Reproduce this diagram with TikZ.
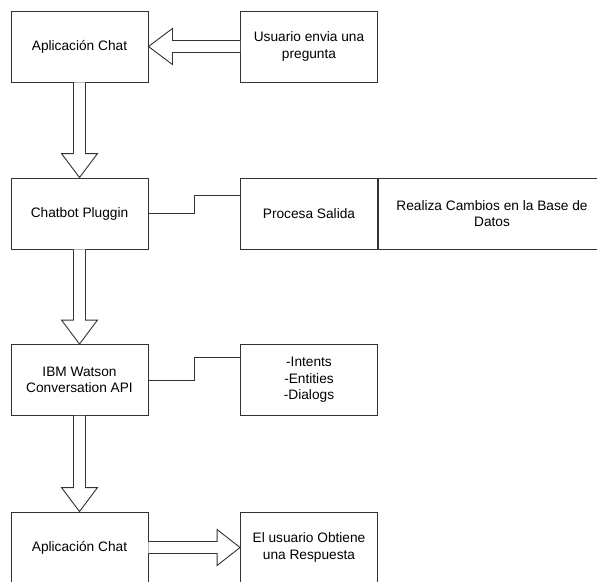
\documentclass[tikz,border=0pt]{standalone}
\usepackage{fontspec}
\setmainfont{Liberation Sans}
\usetikzlibrary{calc}
\definecolor{edge}{rgb}{0.2,0.2,0.2}

\begin{document}
\begin{tikzpicture}[x=1pt, y=-1pt,
		  box/.style={draw=edge, fill=white, line width=0.9pt, minimum width=137pt, minimum height=71pt, align=center, font=\fontsize{13.7}{16.5}\selectfont, inner sep=2pt},
		  wide box/.style={box, minimum width=228pt},
		  fat arrow/.style={draw=edge, fill=white, line width=0.9pt, line join=miter},
		  link/.style={draw=edge, line width=0.9pt}]
		  \useasboundingbox (0,0) rectangle (597,581);
		  \clip (0,0) rectangle (597,581);
		  \node[box] (app1) at (79.5,46.5) {Aplicación Chat};
		  \node[box] (usuario) at (309,46.5) {Usuario envia una\\pregunta};
		  \node[box] (plugin) at (79.5,213.5) {Chatbot Pluggin};
		  \node[box] (procesa) at (309,213.5) {Procesa Salida};
		  \node[wide box] (realiza) at (492,213.5) {Realiza Cambios en la Base de\\Datos};
		  \node[box] (ibm) at (79.5,380) {IBM Watson\\Conversation API};
		  \node[box] (intents) at (309,380) {-Intents\\-Entities\\-Dialogs};
		  \node[box] (app2) at (79.5,547.5) {Aplicación Chat};
		  \node[box] (respuesta) at (309,547.5) {El usuario Obtiene\\una Respuesta};
		  % fat arrows
		  \draw[fat arrow] ($(usuario.west)+(0,-6)$) -- ($(app1.east)+(24,-6)$) -- ($(app1.east)+(24,-18)$) -- (app1.east)
		      -- ($(app1.east)+(24,18)$) -- ($(app1.east)+(24,6)$) -- ($(usuario.west)+(0,6)$);
		  \foreach \a/\b in {app1/plugin, plugin/ibm, ibm/app2}{
		      \draw[fat arrow] ($(\a.south)+(-6,0)$) -- ($(\b.north)+(-6,-24)$) -- ($(\b.north)+(-18,-24)$) -- (\b.north)
		          -- ($(\b.north)+(18,-24)$) -- ($(\b.north)+(6,-24)$) -- ($(\a.south)+(6,0)$);
		  }
		  \draw[fat arrow] ($(app2.east)+(0,-6)$) -- ($(respuesta.west)+(-23,-6)$) -- ($(respuesta.west)+(-23,-18)$) -- (respuesta.west)
		      -- ($(respuesta.west)+(-23,18)$) -- ($(respuesta.west)+(-23,6)$) -- ($(app2.east)+(0,6)$);
		  % elbow links
		  \draw[link] (plugin.east) -- ++(46,0) |- ($(procesa.west)+(0,-18)$);
		  \draw[link] (ibm.east) -- ++(46,0) |- ($(intents.west)+(0,-23)$);
	\end{tikzpicture}
\end{document}
